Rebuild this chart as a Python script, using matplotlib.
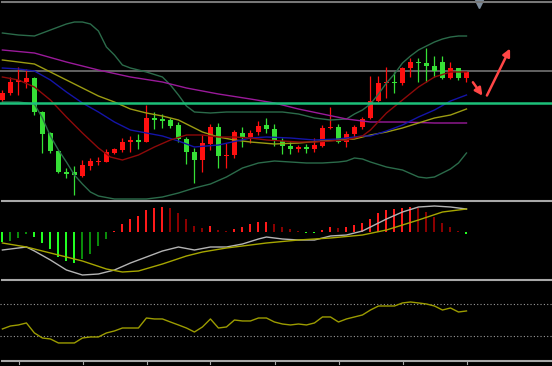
import matplotlib
matplotlib.use("Agg")
import matplotlib.pyplot as plt
from matplotlib.lines import Line2D

# candles (price units), one per bar
opens = [100, 107, 118, 118, 122, 88, 67, 49, 28, 28, 24, 34, 38, 38, 47, 50, 58, 60, 58, 82,
         81, 80, 75, 61, 48, 40, 56, 73, 44, 45, 67, 63, 68, 75, 71, 59, 54, 51, 53, 51,
         54, 72, 73, 58, 66, 73, 82, 99, 117, 118, 117, 132, 138, 137, 134, 138, 122, 132, 122]
highs = [110, 123, 133, 131, 123, 89, 68, 50, 32, 34, 40, 42, 43, 51, 52, 62, 64, 66, 95, 88,
         86, 82, 78, 63, 52, 65, 76, 77, 57, 70, 73, 70, 79, 82, 76, 62, 58, 55, 56, 62,
         75, 93, 76, 69, 75, 83, 124, 124, 133, 128, 133, 142, 142, 152, 144, 144, 138, 132, 129]
lows = [98, 105, 105, 112, 85, 47, 47, 27, 22, 5, 23, 30, 35, 38, 46, 48, 48, 51, 58, 71,
        72, 72, 58, 36, 17, 28, 50, 32, 32, 42, 53, 57, 65, 67, 54, 46, 46, 48, 47, 48,
        53, 71, 57, 53, 63, 71, 81, 98, 102, 107, 115, 123, 118, 118, 123, 121, 121, 120, 118]
closes = [107, 118, 120, 122, 88, 66, 49, 28, 26, 25, 35, 39, 39, 48, 51, 58, 60, 58, 82, 80,
          79, 74, 61, 48, 40, 57, 73, 44, 45, 68, 63, 67, 74, 71, 59, 54, 51, 53, 51, 55,
          72, 73, 58, 66, 73, 81, 99, 117, 118, 117, 132, 138, 137, 134, 129, 122, 132, 122, 128]

# overlay lines, sampled at bar indices
up_x = [0, 2, 4, 6, 8, 9, 10, 11, 12, 13, 14, 15, 16, 18, 20, 21, 22, 23, 24, 26, 28, 31, 35, 37,
        39, 41, 43, 44, 45, 46, 47, 48, 49, 50, 51, 52, 53, 54, 55, 56, 57, 58]
up_y = [167, 165, 164, 170, 176, 178, 178, 176, 169, 153, 145, 135, 132, 128, 123, 115, 105, 94, 88,
        87, 88, 88, 88, 86, 82, 80, 81, 86, 90, 96, 106, 117, 126, 137, 144, 150, 154, 158, 161, 163,
        164, 164]
lo_x = [0, 2, 4, 5, 6, 7, 8, 9, 10, 11, 12, 14, 16, 18, 20, 22, 24, 26, 28, 30, 32, 34, 36, 38,
        40, 42, 43, 44, 45, 46, 48, 50, 52, 53, 54, 55, 56, 57, 58]
lo_y = [98, 98, 96, 82, 64, 50, 38, 25, 16, 8, 4, 1, 1, 1, 3, 7, 12, 16, 23, 32, 37, 39, 38, 37,
        37, 38, 39, 42, 41, 38, 33, 30, 23, 22, 23, 27, 31, 37, 47]
ma_purple_x = [0, 4, 8, 12, 16, 20, 23, 27, 31, 34, 37, 40, 43, 46, 50, 54, 58]
ma_purple_y = [150, 147, 138, 130, 123, 118, 112, 106, 101, 97, 91, 86, 81, 78, 78, 77, 77]
ma_olive_x = [0, 2, 4, 6, 8, 10, 12, 14, 16, 18, 20, 22, 23, 25, 27, 29, 31, 34, 37, 40, 42, 44,
              46, 48, 50, 52, 54, 56, 58]
ma_olive_y = [140, 138, 136, 128, 120, 112, 104, 98, 91, 87, 84, 80, 76, 68, 63, 60, 58, 56, 57,
              59, 60, 61, 65, 68, 72, 77, 82, 85, 91]
ma_blue_x = [0, 2, 4, 6, 8, 10, 12, 14, 16, 18, 20, 22, 23, 24, 27, 31, 33, 36, 39, 42, 45, 46,
             48, 50, 52, 54, 56, 58]
ma_blue_y = [132, 131, 129, 120, 108, 97, 88, 78, 70, 67, 64, 59, 56, 53, 55, 62, 63, 62, 60, 61,
             64, 64, 69, 75, 83, 90, 99, 105]
ma_red_x = [0, 2, 4, 6, 8, 10, 12, 13.5, 15, 17, 19, 21, 23, 25, 27, 29, 31, 33, 35, 37, 39, 41,
            43, 45, 46, 48, 50, 52, 54, 56, 58]
ma_red_y = [123, 120, 113, 100, 83, 67, 52, 43, 40, 45, 53, 60, 65, 65, 63, 63, 62, 60, 59, 58,
            58, 59, 60, 64, 70, 87, 100, 113, 123, 128, 128]
resistance = 129
support = 97

# MACD panel
macd_hist = [-10, -9, -5.7, -2.3, -5, -10.7, -17.3, -25, -29, -30.7, -27.3, -21.7, -14, -7.3,
             1, 7.7, 12.7, 16, 21.7, 24.3, 25.3, 23.7, 19.3, 12.7, 6, 4.3, 6, 2, 1,
             3.3, 5.3, 7.7, 10.3, 10.3, 7.7, 5.3, 2.7, 1, -1.3, -1.3,
             2, 5, 4.3, 5, 7, 9.3, 13.3, 19.3, 22, 22.7, 24.3, 25.3, 23.7, 20.3, 15.3, 8.7, 5.3, 1, -2.3]
macd_x = [0, 2, 3, 4, 6, 8, 10, 12, 14, 16, 18, 20, 22, 24, 26, 28, 30, 32, 33, 35, 37, 39, 41,
          43, 45, 47, 48, 50, 52, 54, 56, 58]
macd_y = [-18, -16, -15, -19, -28, -38, -43, -42, -38, -31, -25, -19, -15, -18, -15, -15, -12,
          -7, -5, -7, -8, -8, -4, -3, 1, 9, 13, 20, 25, 26, 25, 23]
signal_x = [0, 3, 6, 10, 13, 15, 17, 20, 23, 25, 28, 30, 33, 37, 41, 45, 48, 50, 52, 55, 58]
signal_y = [-11, -15, -21, -29, -37, -40, -39, -32, -24, -20, -16, -14, -11, -8, -6, -3, 2, 7,
            12, 20, 23]

# RSI panel
rsi = [38.8, 42.5, 43.8, 46.3, 33.8, 27.5, 26.3, 21.3, 21.3, 21.3, 27.5, 28.8, 28.8, 33.8, 36.3,
       40, 40, 40, 52.5, 51.3, 51.3, 47.5, 43.8, 40, 35, 41.3, 51.3, 40, 41.3, 50,
       48.8, 48.8, 52.5, 52.5, 47.5, 45, 43.8, 45, 43.8, 46.3, 53.8, 53.8, 47.5, 51.3, 53.8,
       56.3, 62.5, 67.5, 67.5, 67.5, 71.3, 72.5, 71.3, 70, 67.5, 62.5, 65, 60, 61.3]
rsi_levels = [70, 30]

W, H = 552, 366
fig = plt.figure(figsize=(W / 100, H / 100), dpi=100, facecolor="black")


def panel(top, bottom):
    ax = fig.add_axes([0, (H - bottom) / H, 1, (bottom - top) / H])
    ax.set_facecolor("black")
    for s in ax.spines.values():
        s.set_visible(False)
    ax.set_xticks([])
    ax.set_yticks([])
    ax.set_xlim(-0.3, (W - 2.5) / 8)
    return ax


ax1 = panel(2, 200)
ax2 = panel(201, 279)
ax3 = panel(280, 360)

# main chart
ax1.set_ylim(0, 198)
bull, bear = "#ff1010", "#36e036"
xs = list(range(len(opens)))
for i, o, h, l, c in zip(xs, opens, highs, lows, closes):
    col = bull if c >= o else bear
    ax1.vlines(i, l, h, color=col, lw=0.9, zorder=2)
    ax1.bar(i, max(abs(c - o), 0.8), bottom=min(o, c), width=0.62, color=col, lw=0, zorder=3)

ax1.plot(up_x, up_y, color="#2b6b4a", lw=1, zorder=4)
ax1.plot(lo_x, lo_y, color="#2b6b4a", lw=1, zorder=4)
ax1.plot(ma_purple_x, ma_purple_y, color="#9a1a9a", lw=1, zorder=4)
ax1.plot(ma_olive_x, ma_olive_y, color="#9c9c12", lw=1, zorder=4)
ax1.plot(ma_blue_x, ma_blue_y, color="#1414a8", lw=1, zorder=4)
ax1.plot(ma_red_x, ma_red_y, color="#8e0a0a", lw=1, zorder=4)
ax1.axhline(resistance, color="#6a6a6a", lw=1.3, zorder=1)
ax1.axhline(support, color="#1cc07a", lw=1.8, zorder=5)

arrow = dict(arrowstyle="-|>", color="#ff4646", lw=1.8, mutation_scale=11)
ax1.annotate("", xy=(60.2, 102), xytext=(58.6, 120), arrowprops=arrow, zorder=6)
ax1.annotate("", xy=(63.6, 154), xytext=(60.4, 102), arrowprops=arrow, zorder=6)
ax1.plot([59.6], [196], marker="v", color="#7d8c9c", markersize=6, clip_on=False, zorder=6)

# MACD
ax2.set_ylim(-47, 31)
hist_cols = []
prev = 0
for v in macd_hist:
    if v >= 0:
        hist_cols.append("#ff1a1a" if v >= prev else "#8a0000")
    else:
        hist_cols.append("#22ff22" if v <= prev else "#0a8a0a")
    prev = v
ax2.bar(xs, macd_hist, width=0.25, color=hist_cols, lw=0)
ax2.plot(macd_x, macd_y, color="#b4b4b4", lw=1)
ax2.plot(signal_x, signal_y, color="#a6a600", lw=1)

# RSI
ax3.set_ylim(0, 100)
for lvl in rsi_levels:
    ax3.axhline(lvl, color="#9a9a9a", lw=0.8, linestyle=(0, (1, 2)))
ax3.plot(xs, rsi, color="#9c9c00", lw=1)

# panel separators and bottom time ticks
for y, c in [(1.5, "#777777"), (200.5, "#a8a8a8"), (279.5, "#a8a8a8"), (360.5, "#a8a8a8")]:
    fig.add_artist(Line2D([2 / W, 1], [(H - y) / H] * 2, color=c, lw=1.5))
for i in range(2, len(opens), 8):
    px = (2.5 + 8 * i) / W
    fig.add_artist(Line2D([px, px], [(H - 361.5) / H, (H - 363.5) / H], color="#a8a8a8", lw=0.8))

fig.savefig("out.png", dpi=100, facecolor="black")
